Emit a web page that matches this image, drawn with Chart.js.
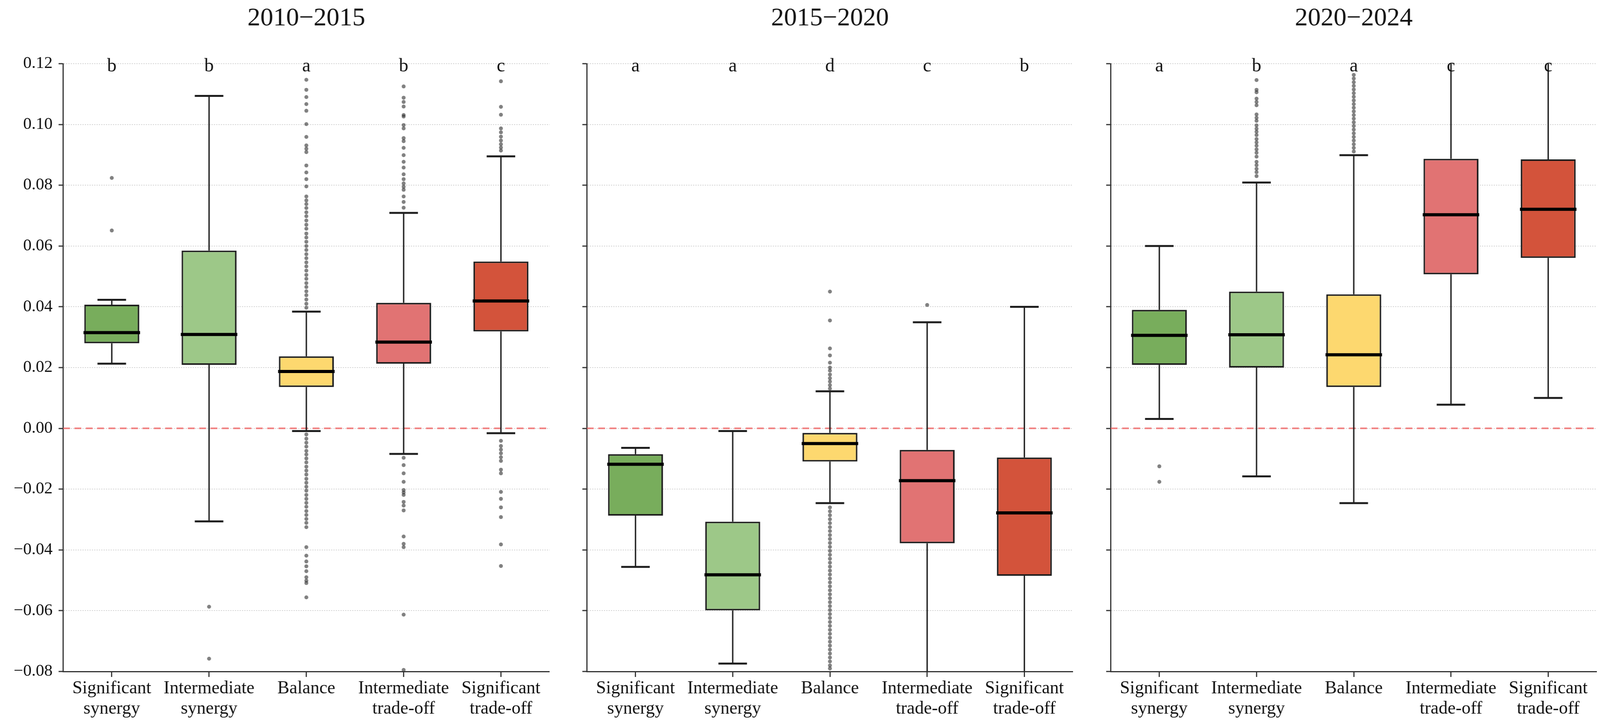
<!DOCTYPE html>
<html>
<head>
<meta charset="utf-8">
<title>Synergy and trade-off box plots</title>
<script src="https://cdn.jsdelivr.net/npm/chart.js@4.4.1/dist/chart.umd.min.js"></script>
<style>
    html, body { margin: 0; padding: 0; background: #fff; overflow: hidden; }
    .panel { position: absolute; top: 0; }
</style>
</head>
<body>
<div class="panel" id="box0"><canvas id="panel0"></canvas></div>
<div class="panel" id="box1"><canvas id="panel1"></canvas></div>
<div class="panel" id="box2"><canvas id="panel2"></canvas></div>

<script>
    "use strict";

    // Data
    var categories = [['Significant', 'synergy'], ['Intermediate', 'synergy'], 'Balance',
                      ['Intermediate', 'trade-off'], ['Significant', 'trade-off']];
    var periods = ['2010\u22122015', '2015\u22122020', '2020\u22122024'];
    var letters = [['b', 'b', 'a', 'b', 'c'],
                   ['a', 'a', 'd', 'c', 'b'],
                   ['a', 'b', 'a', 'c', 'c']];
    var yMin = -0.08, yMax = 0.12, yStep = 0.02;

    var whiskerLow = [[0.0213, -0.0306, -0.0009, -0.0084, -0.0016],
                      [-0.0456, -0.0774, -0.0246, -0.0950, -0.0950],
                      [0.0031, -0.0158, -0.0246, 0.0078, 0.0100]];
    var q1 = [[0.0280, 0.0209, 0.0136, 0.0213, 0.0319],
              [-0.0287, -0.0599, -0.0109, -0.0378, -0.0485],
              [0.0209, 0.0200, 0.0136, 0.0507, 0.0561]];
    var median = [[0.0315, 0.0309, 0.0187, 0.0284, 0.0419],
                  [-0.0118, -0.0482, -0.0050, -0.0172, -0.0278],
                  [0.0306, 0.0308, 0.0242, 0.0703, 0.0721]];
    var q3 = [[0.0407, 0.0585, 0.0237, 0.0413, 0.0549],
              [-0.0085, -0.0307, -0.0015, -0.0071, -0.0096],
              [0.0390, 0.0450, 0.0441, 0.0887, 0.0885]];
    var whiskerHigh = [[0.0423, 0.1094, 0.0384, 0.0709, 0.0895],
                       [-0.0064, -0.0009, 0.0122, 0.0349, 0.0400],
                       [0.0600, 0.0809, 0.0899, 0.1250, 0.1250]];

    var outliers2010 = [
        [0.0824, 0.0651],
        [-0.0587, -0.0758],
        [0.1147, 0.1114, 0.1090, 0.1067, 0.1045, 0.1001, 0.0959, 0.0931, 0.0920, 0.0909, 0.0865, 0.0842,
         0.0820, 0.0796, 0.0763, 0.0750, 0.0738, 0.0725, 0.0711, 0.0698, 0.0684, 0.0670, 0.0657, 0.0641,
         0.0628, 0.0614, 0.0600, 0.0587, 0.0573, 0.0560, 0.0546, 0.0533, 0.0519, 0.0505, 0.0492, 0.0478,
         0.0465, 0.0451, 0.0438, 0.0424, 0.0410, 0.0397,
         -0.0020, -0.0034, -0.0047, -0.0060, -0.0074, -0.0086, -0.0099, -0.0112, -0.0126, -0.0139,
         -0.0152, -0.0166, -0.0179, -0.0192, -0.0205, -0.0219, -0.0232, -0.0245, -0.0258, -0.0272,
         -0.0285, -0.0298, -0.0311, -0.0325, -0.0391, -0.0419, -0.0438, -0.0454, -0.0470, -0.0490,
         -0.0501, -0.0509, -0.0556],
        [0.1125, 0.1088, 0.1074, 0.1059, 0.1031, 0.1026, 0.0998, 0.0987, 0.0955, 0.0945, 0.0923, 0.0899,
         0.0877, 0.0858, 0.0836, 0.0820, 0.0806, 0.0795, 0.0785, 0.0763, 0.0745, 0.0726,
         -0.0097, -0.0121, -0.0148, -0.0176, -0.0203, -0.0211, -0.0219, -0.0242, -0.0254, -0.0270,
         -0.0356, -0.0380, -0.0391, -0.0613, -0.0795],
        [0.1142, 0.1058, 0.1032, 0.0987, 0.0974, 0.0960, 0.0947, 0.0935, 0.0924, 0.0914,
         -0.0041, -0.0058, -0.0070, -0.0082, -0.0095, -0.0107, -0.0136, -0.0148, -0.0209, -0.0232,
         -0.0260, -0.0292, -0.0382, -0.0453]
    ];
    var outliers2015 = [
        [],
        [],
        [0.0450, 0.0355, 0.0263, 0.0240, 0.0216, 0.0200, 0.0190, 0.0177, 0.0165, 0.0154, 0.0142, 0.0131,
         -0.0260, -0.0273, -0.0286, -0.0299, -0.0312, -0.0325, -0.0338, -0.0351, -0.0364, -0.0377,
         -0.0390, -0.0403, -0.0416, -0.0429, -0.0442, -0.0455, -0.0468, -0.0481, -0.0494, -0.0507,
         -0.0520, -0.0533, -0.0546, -0.0559, -0.0572, -0.0585, -0.0598, -0.0611, -0.0624, -0.0637,
         -0.0650, -0.0663, -0.0676, -0.0689, -0.0702, -0.0715, -0.0728, -0.0741, -0.0754, -0.0767,
         -0.0780, -0.0790],
        [0.0406],
        []
    ];
    var outliers2020 = [
        [-0.0125, -0.0176],
        [0.1146, 0.1114, 0.1106, 0.1085, 0.1074, 0.1063, 0.1033, 0.1022, 0.1012, 0.0997, 0.0986, 0.0976,
         0.0965, 0.0952, 0.0941, 0.0930, 0.0918, 0.0907, 0.0894, 0.0877, 0.0866, 0.0854, 0.0843, 0.0830],
        [0.1163, 0.1151, 0.1139, 0.1127, 0.1115, 0.1103, 0.1091, 0.1079, 0.1067, 0.1055, 0.1043, 0.1031,
         0.1019, 0.1007, 0.0995, 0.0983, 0.0971, 0.0959, 0.0947, 0.0935, 0.0923, 0.0911],
        [],
        []
    ];
    var outliers = [outliers2010, outliers2015, outliers2020];

    // Styles
    var boxColors = ['#78ad5c', '#9dc888', '#fdd86f', '#e17373', '#d3533b'];
    var ink = '#1e1e1e';
    Chart.defaults.font.family = '"Liberation Serif", "DejaVu Serif", serif';
    Chart.defaults.color = '#111111';

    // Page is laid out on a 4236 x 1856 grid, scaled to the window
    var W = window.innerWidth, H = window.innerHeight;
    var sx = W / 4236, sy = H / 1856;
    var panelLeft = [0, 1474, 2861];
    var panelWidth = [1463, 1375, 1375];
    var axisWidth = [167, 80, 80];


    // Whiskers, medians, zero line, letters and titles
    var boxParts = {
        id: 'boxParts',
        beforeDatasetsDraw: function (chart) {
            var k = chart.options.plugins.boxParts.panel;
            var ctx = chart.ctx, xs = chart.scales.x, ys = chart.scales.y, area = chart.chartArea;
            var bars = chart.getDatasetMeta(0).data;
            ctx.save();
            ctx.beginPath();
            ctx.rect(area.left, area.top, area.right - area.left, area.bottom - area.top);
            ctx.clip();

            // zero reference line
            var y0 = ys.getPixelForValue(0);
            ctx.strokeStyle = 'rgba(240, 105, 105, 0.85)';
            ctx.lineWidth = 4 * sy;
            ctx.setLineDash([18 * sx, 12 * sx]);
            ctx.beginPath();
            ctx.moveTo(area.left, y0);
            ctx.lineTo(area.right, y0);
            ctx.stroke();
            ctx.setLineDash([]);

            ctx.strokeStyle = ink;
            for (var i = 0; i < categories.length; i++) {
                var x = xs.getPixelForValue(i);
                var cap = bars[i].width * 0.26;
                var yHi = ys.getPixelForValue(whiskerHigh[k][i]);
                var yLo = ys.getPixelForValue(whiskerLow[k][i]);
                ctx.lineWidth = 3.5;
                ctx.beginPath();
                ctx.moveTo(x, ys.getPixelForValue(q3[k][i]));
                ctx.lineTo(x, yHi);
                ctx.moveTo(x, ys.getPixelForValue(q1[k][i]));
                ctx.lineTo(x, yLo);
                ctx.stroke();
                ctx.lineWidth = 5;
                ctx.beginPath();
                ctx.moveTo(x - cap, yHi);
                ctx.lineTo(x + cap, yHi);
                ctx.moveTo(x - cap, yLo);
                ctx.lineTo(x + cap, yLo);
                ctx.stroke();
            }
            ctx.restore();
        },
        afterDatasetsDraw: function (chart) {
            var k = chart.options.plugins.boxParts.panel;
            var ctx = chart.ctx, xs = chart.scales.x, ys = chart.scales.y;
            var bars = chart.getDatasetMeta(0).data;
            ctx.save();
            ctx.strokeStyle = '#000';
            ctx.lineWidth = 8 * sy;
            for (var i = 0; i < categories.length; i++) {
                var x = xs.getPixelForValue(i);
                var half = bars[i].width / 2 + 2;
                var ym = ys.getPixelForValue(median[k][i]);
                ctx.beginPath();
                ctx.moveTo(x - half, ym);
                ctx.lineTo(x + half, ym);
                ctx.stroke();
            }
            ctx.restore();
        },
        afterDraw: function (chart) {
            var k = chart.options.plugins.boxParts.panel;
            var ctx = chart.ctx, xs = chart.scales.x, ys = chart.scales.y, area = chart.chartArea;
            ctx.save();
            ctx.fillStyle = '#111';
            ctx.textAlign = 'center';
            ctx.textBaseline = 'alphabetic';
            ctx.font = Math.round(48 * sy) + 'px "Liberation Serif"';
            for (var i = 0; i < categories.length; i++) {
                ctx.fillText(letters[k][i], xs.getPixelForValue(i), ys.getPixelForValue(yMax) + 20 * sy);
            }
            ctx.textBaseline = 'middle';
            ctx.font = Math.round(66 * sy) + 'px "Liberation Serif"';
            ctx.fillText(periods[k], (area.left + area.right) / 2, 48 * sy);
            ctx.restore();
        }
    };


    // Panels
    function buildPanel(k, showLabels) {
        var holder = document.getElementById('box' + k);
        holder.style.left = (panelLeft[k] * sx) + 'px';
        holder.style.width = (panelWidth[k] * sx) + 'px';
        holder.style.height = H + 'px';

        var points = [];
        outliers[k].forEach(function (list, i) {
            list.forEach(function (v) {
                points.push({x: i, y: v});
            });
        });
        var boxes = q1[k].map(function (v, i) {
            return [v, q3[k][i]];
        });

        var ctx = document.getElementById('panel' + k).getContext('2d');
        return new Chart(ctx, {
            type: 'bar',
            data: {
                labels: categories,
                datasets: [{
                    data: boxes,
                    backgroundColor: boxColors,
                    borderColor: ink,
                    borderWidth: 4,
                    borderSkipped: false,
                    categoryPercentage: 1,
                    barPercentage: 0.565
                }, {
                    type: 'scatter',
                    parsing: false,
                    data: points,
                    pointRadius: 5,
                    pointBackgroundColor: 'rgba(45, 45, 45, 0.6)',
                    pointBorderWidth: 0
                }]
            },
            options: {
                responsive: true,
                maintainAspectRatio: false,
                animation: false,
                layout: {padding: {top: 163 * sy, right: 9 * sx, bottom: 0, left: 0}},
                plugins: {
                    legend: {display: false},
                    tooltip: {enabled: false},
                    boxParts: {panel: k}
                },
                scales: {
                    x: {
                        type: 'category',
                        offset: true,
                        grid: {
                            offset: false,
                            drawOnChartArea: false,
                            drawTicks: true,
                            tickLength: 14 * sy,
                            tickColor: '#333',
                            tickWidth: 3
                        },
                        border: {color: '#333', width: 3},
                        ticks: {
                            autoSkip: false,
                            maxRotation: 0,
                            padding: 4 * sy,
                            color: '#111',
                            font: {size: Math.round(46 * sy), lineHeight: 1.13}
                        },
                        afterFit: function (s) { s.height = 137 * sy; }
                    },
                    y: {
                        min: yMin,
                        max: yMax,
                        grid: {
                            color: '#d2d2d2',
                            lineWidth: 2,
                            tickLength: 12 * sx,
                            tickColor: '#333',
                            tickWidth: 3
                        },
                        border: {color: '#333', width: 3, dash: [3, 3]},
                        ticks: {
                            display: showLabels,
                            stepSize: yStep,
                            padding: 16 * sx,
                            color: '#111',
                            font: {size: Math.round(43 * sy)},
                            callback: function (v) {
                                if (Math.abs(v) < 1e-9) return '0.00';
                                return (v < 0 ? '\u2212' : '') + Math.abs(v).toFixed(2);
                            }
                        },
                        afterFit: function (s) { s.width = axisWidth[k] * sx; }
                    }
                }
            },
            plugins: [boxParts]
        });
    }

    buildPanel(0, true);
    buildPanel(1, false);
    buildPanel(2, false);
</script>
</body>
</html>
